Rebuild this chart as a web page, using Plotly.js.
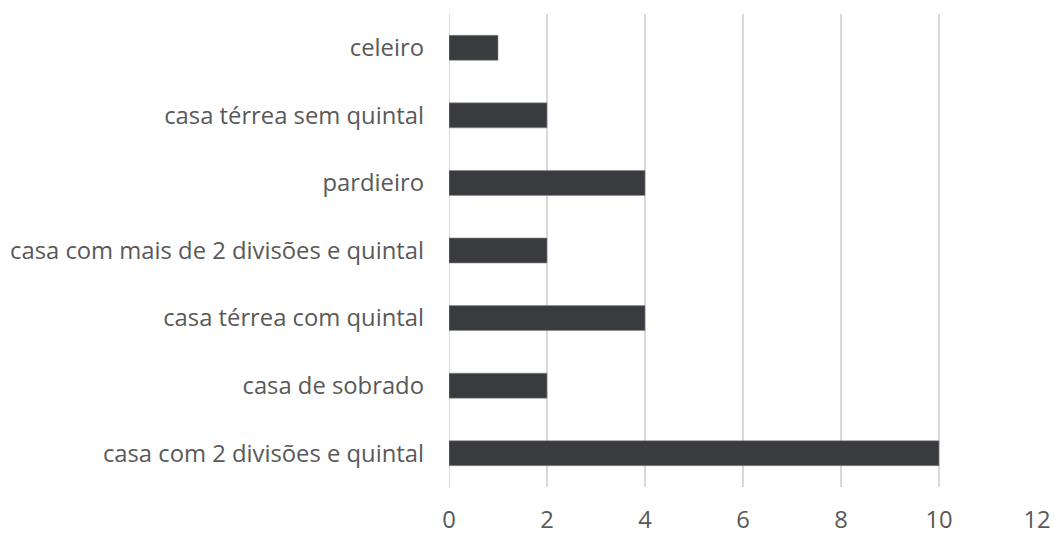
<!DOCTYPE html>
<html>
<head>
<meta charset="utf-8">
<script src="https://cdn.plot.ly/plotly-3.0.1.min.js"></script>
<style>html,body{margin:0;padding:0;background:#fff;}#chart{width:1054px;height:534px;}</style>
</head>
<body>
<div id="chart"></div>
<script>
var categories = [
  "casa com 2 divisões e quintal",
  "casa de sobrado",
  "casa térrea com quintal",
  "casa com mais de 2 divisões e quintal",
  "pardieiro",
  "casa térrea sem quintal",
  "celeiro"
];
var values = [10, 2, 4, 2, 4, 2, 1];
var xTicks = [0, 2, 4, 6, 8, 10, 12];

var trace = {
  type: 'bar',
  orientation: 'h',
  y: categories,
  x: values,
  marker: {color: '#3a3b3f', line: {color: '#8a8b8e', width: 0.6}},
  hoverinfo: 'none'
};

var layout = {
  width: 1054,
  height: 534,
  margin: {l: 449, r: 17, t: 14, b: 47},
  paper_bgcolor: '#ffffff',
  plot_bgcolor: '#ffffff',
  bargap: 0.63,
  showlegend: false,
  font: {family: '"Open Sans", "Noto Sans", sans-serif', size: 23.8, color: '#595959'},
  xaxis: {
    range: [0, 12],
    tickvals: xTicks,
    ticktext: xTicks.map(String),
    showgrid: true,
    gridcolor: '#d9d9d9',
    gridwidth: 2,
    zeroline: false,
    showline: false,
    ticks: '',
    ticklabelstandoff: 16,
    fixedrange: true
  },
  yaxis: {
    type: 'category',
    categoryorder: 'array',
    categoryarray: categories,
    showgrid: false,
    zeroline: false,
    showline: false,
    ticks: '',
    ticklabelstandoff: 24,
    fixedrange: true
  },
  shapes: [{
    type: 'line', xref: 'x', yref: 'paper', x0: 0, x1: 0, y0: 0, y1: 1,
    line: {color: '#d9d9d9', width: 2}, layer: 'below'
  }]
};

Plotly.newPlot('chart', [trace], layout, {displayModeBar: false, staticPlot: true});
</script>
</body>
</html>
